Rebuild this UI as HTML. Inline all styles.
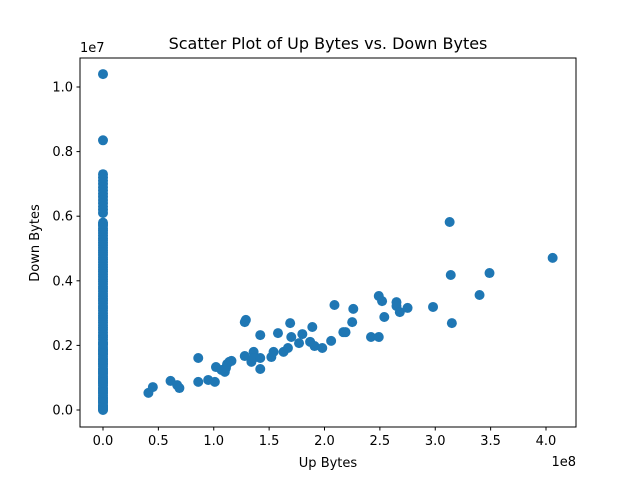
<!DOCTYPE html>
<html><head><meta charset="utf-8"><style>
body{margin:0;background:#fff}
svg{display:block;font-family:"DejaVu Sans","Liberation Sans",sans-serif}
</style></head><body>
<svg id="chart" width="640" height="480">
<rect width="640" height="480" fill="#fff"/>
<text x="328" y="49" text-anchor="middle" font-size="16" fill="#000">Scatter Plot of Up Bytes vs. Down Bytes</text>
<text x="328" y="467" text-anchor="middle" font-size="13">Up Bytes</text>
<text x="39" y="243" text-anchor="middle" font-size="13" transform="rotate(-90 39 243)">Down Bytes</text>
<text x="80" y="52" font-size="13">1e7</text>
<text x="576" y="466" text-anchor="end" font-size="13">1e8</text>
<g id="ticks"></g>
<g id="points"></g>
<rect x="80" y="58" width="496" height="369" fill="none" stroke="#000" stroke-width="1"/>
</svg>
<script>
// Up bytes in 1e8, down bytes in 1e6
const xTicks=[0,0.5,1,1.5,2,2.5,3,3.5,4];
const xTickLabels=["0.0","0.5","1.0","1.5","2.0","2.5","3.0","3.5","4.0"];
const yTicks=[0,2,4,6,8,10];
const yTickLabels=["0.0","0.2","0.4","0.6","0.8","1.0"];
const upBytes=[0.41,0.45,0.61,0.67,0.69,0.86,0.86,0.95,1.01,1.02,1.07,1.10,1.11,1.12,1.14,1.16,1.28,1.29,1.28,1.34,1.36,1.36,1.42,1.42,1.42,1.52,1.54,1.58,1.63,1.67,1.69,1.70,1.77,1.80,1.87,1.89,1.91,1.98,2.06,2.09,2.17,2.19,2.25,2.26,2.42,2.49,2.52,2.54,2.49,2.65,2.65,2.68,2.75,2.98,3.13,3.14,3.15,3.40,3.49,4.06,
0,0,0,0,0,0,0,0,0,0,0,0,0,0,0,
0,0,0,0,0,0,0,0,0,0,0,0,0,0,0,0,0,0,0,0,0,0,0,0,0,0,0,0,0,0,0,0,0,0,0,0,0,0,0,0,0,0,0,0,0,0,
0,0,0,0,0,0,0,0,0,0,0,0,0,0,0,0,0,0,0,0,0,0,0,0,0,0,0,0,0,0,0,0,0,0,0,0,0,0,0,0,0,0,0,0,0,0,0,0,0];
const downBytes=[0.53,0.71,0.90,0.77,0.68,1.61,0.87,0.93,0.87,1.33,1.24,1.18,1.30,1.42,1.49,1.52,1.67,2.79,2.72,1.49,1.80,1.61,2.32,1.61,1.27,1.64,1.80,2.38,1.80,1.92,2.69,2.26,2.07,2.35,2.11,2.57,1.98,1.92,2.14,3.25,2.41,2.41,2.72,3.13,2.26,3.53,3.37,2.88,2.26,3.34,3.22,3.03,3.16,3.19,5.82,4.18,2.69,3.56,4.24,4.71,
10.4,8.35,7.3,7.2,7.1,7.0,6.9,6.8,6.7,6.6,6.5,6.4,6.3,6.2,6.1,
5.8,5.75,5.7,5.62,5.55,5.48,5.4,5.32,5.25,5.18,5.1,5.02,4.95,4.88,4.8,4.72,4.65,4.58,4.5,4.42,4.35,4.28,4.2,4.12,4.05,3.98,3.9,3.82,3.75,3.68,3.6,3.52,3.45,3.38,3.3,3.22,3.15,3.08,3.0,2.92,2.85,2.78,2.7,2.62,2.55,2.48,
2.4,2.32,2.25,2.18,2.1,2.02,1.95,1.88,1.8,1.72,1.65,1.58,1.5,1.42,1.35,1.28,1.2,1.12,1.05,0.98,0.9,0.82,0.75,0.68,0.6,0.52,0.45,0.38,0.3,0.22,0.15,0.08,0.02,0.0,0.05,0.12,0.25,0.35,0.55,0.65,0.85,0.95,1.15,1.25,1.45,1.55,1.75,1.85,2.05];
const NS="http://www.w3.org/2000/svg";
function xs(v){return 103+v*110.75;}
function ys(v){return 410-v*32.3;}
const tg=document.getElementById('ticks');
xTicks.forEach((t,i)=>{
  const l=document.createElementNS(NS,'line');
  l.setAttribute('x1',xs(t));l.setAttribute('x2',xs(t));l.setAttribute('y1',427);l.setAttribute('y2',430.5);l.setAttribute('stroke','#000');
  
  
  tg.appendChild(l);
  const tx=document.createElementNS(NS,'text');
  tx.setAttribute('x',xs(t));tx.setAttribute('y',445);tx.setAttribute('text-anchor','middle');tx.setAttribute('font-size','13');
  tx.textContent=xTickLabels[i];
  
  
  tg.appendChild(tx);
});
yTicks.forEach((t,i)=>{
  const l=document.createElementNS(NS,'line');
  l.setAttribute('x1',76.5);l.setAttribute('x2',80);l.setAttribute('y1',ys(t));l.setAttribute('y2',ys(t));l.setAttribute('stroke','#000');
  
  
  tg.appendChild(l);
  const tx=document.createElementNS(NS,'text');
  tx.setAttribute('x',73);tx.setAttribute('y',ys(t)+4.5);tx.setAttribute('text-anchor','end');tx.setAttribute('font-size','13');
  tx.textContent=yTickLabels[i];
  
  
  tg.appendChild(tx);
});
const pg=document.getElementById('points');
upBytes.forEach((u,i)=>{
  const c=document.createElementNS(NS,'circle');
  c.setAttribute('cx',xs(u));c.setAttribute('cy',ys(downBytes[i]));c.setAttribute('r',5);c.setAttribute('fill','#1f77b4');
  
  
  pg.appendChild(c);
});
</script>
</body></html>
